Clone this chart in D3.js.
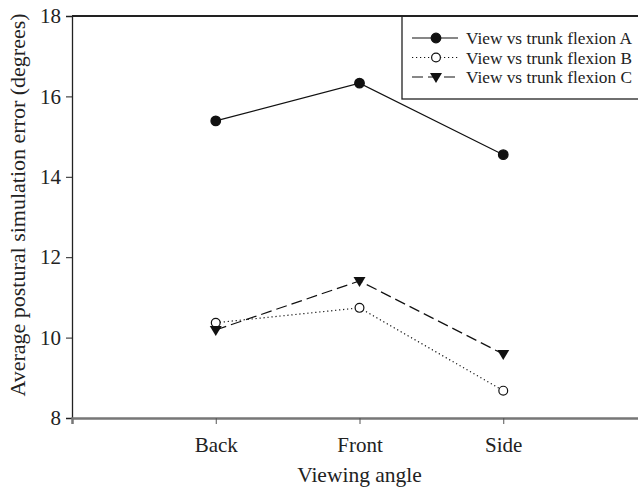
<!DOCTYPE html>
<html>
<head>
<meta charset="utf-8">
<script src="https://cdn.jsdelivr.net/npm/d3@7"></script>
<style>
  body { margin: 0; background: #fff; }
  text { font-family: "Liberation Serif", "Times New Roman", serif; fill: #222; }
</style>
</head>
<body>
<div id="chart"></div>
<script>
var categories = ["Back", "Front", "Side"]
var flexionA = [15.39, 16.33, 14.55]
var flexionB = [10.37, 10.74, 8.68]
var flexionC = [10.19, 11.41, 9.59]
var seriesNames = ["View vs trunk flexion A", "View vs trunk flexion B", "View vs trunk flexion C"]
var yTicks = [8, 10, 12, 14, 16, 18]

var width = 638,
    height = 489

var svg = d3.select("#chart").append("svg")
    .attr("width", width)
    .attr("height", height)

// categories sit at 1,2,3 on a 0..4 axis (right end cut off by the window)
var x = d3.scaleLinear().domain([0, 4]).range([72, 647])
var y = d3.scaleLinear().domain([8, 18]).range([418, 16])

var series = [
  { name: seriesNames[0], values: flexionA, dash: null, symbol: "circle" },
  { name: seriesNames[1], values: flexionB, dash: "1.2,2.8", symbol: "open" },
  { name: seriesNames[2], values: flexionC, dash: "11,5", symbol: "triangle" }
]

// top frame line
svg.append("line")
    .attr("x1", x(0)).attr("x2", width)
    .attr("y1", y(18)).attr("y2", y(18))
    .style("stroke", "#222").style("stroke-width", 2)

// y axis
var yAxis = svg.append("g")
    .attr("transform", "translate(" + x(0) + ",0)")
    .call(d3.axisLeft(y).tickValues(yTicks).tickSize(6).tickPadding(5))
yAxis.select(".domain").style("stroke", "#222").style("stroke-width", 1.3)
yAxis.selectAll(".tick line").style("stroke", "#222")
yAxis.selectAll("text").style("font-size", "21px").style("font-family", "Liberation Serif").attr("fill", "#222")

// x axis
var xAxis = svg.append("g")
    .attr("transform", "translate(0," + y(8) + ")")
    .call(d3.axisBottom(x).tickValues([1, 2, 3])
      .tickFormat(function(d) { return categories[d - 1] })
      .tickSizeOuter(0).tickSize(6).tickPadding(13))
xAxis.select(".domain").style("stroke", "#777").style("stroke-width", 2.5)
xAxis.selectAll(".tick line").style("stroke", "#555")
xAxis.selectAll("text").style("font-size", "21px").style("font-family", "Liberation Serif").attr("fill", "#222")

// axis titles
svg.append("text")
    .attr("x", x(2)).attr("y", 482)
    .attr("text-anchor", "middle")
    .style("font-size", "21.5px")
    .text("Viewing angle")

svg.append("text")
    .attr("transform", "translate(25," + 205 + ") rotate(-90)")
    .attr("text-anchor", "middle")
    .style("font-size", "22px")
    .text("Average postural simulation error (degrees)")

var line = d3.line()
    .x(function(d, i) { return x(i + 1) })
    .y(function(d) { return y(d) })

function drawSymbol(g, kind, cx, cy) {
  if (kind === "triangle") {
    g.append("path")
        .attr("d", "M" + (cx - 6) + "," + (cy - 4) + "L" + (cx + 6) + "," + (cy - 4) + "L" + cx + "," + (cy + 6) + "Z")
        .style("fill", "#111")
  } else {
    g.append("circle")
        .attr("cx", cx).attr("cy", cy).attr("r", kind === "open" ? 4.4 : 4.8)
        .style("fill", kind === "open" ? "#fff" : "#111")
        .style("stroke", "#111").style("stroke-width", 1.2)
  }
}

series.forEach(function(s) {
  svg.append("path")
      .datum(s.values)
      .attr("d", line)
      .style("fill", "none")
      .style("stroke", "#111")
      .style("stroke-width", 1.2)
      .style("stroke-dasharray", s.dash)
})

series.forEach(function(s) {
  var g = svg.append("g")
  s.values.forEach(function(v, i) { drawSymbol(g, s.symbol, x(i + 1), y(v)) })
})

// legend
var legend = svg.append("g")
legend.append("rect")
    .attr("x", 402).attr("y", 16)
    .attr("width", 260).attr("height", 83)
    .style("fill", "#fff").style("stroke", "#222").style("stroke-width", 1.3)
legend.append("line")
    .attr("x1", 402).attr("x2", width)
    .attr("y1", 16).attr("y2", 16)
    .style("stroke", "#222").style("stroke-width", 2)

series.forEach(function(s, i) {
  var ly = 38 + i * 19.5
  legend.append("line")
      .attr("x1", 412).attr("x2", 458)
      .attr("y1", ly).attr("y2", ly)
      .style("stroke", "#111").style("stroke-width", 1.2)
      .style("stroke-dasharray", s.dash)
  drawSymbol(legend, s.symbol, 436, ly)
  legend.append("text")
      .attr("x", 466).attr("y", ly + 6)
      .style("font-size", "17.3px")
      .text(s.name)
})
</script>
</body>
</html>
